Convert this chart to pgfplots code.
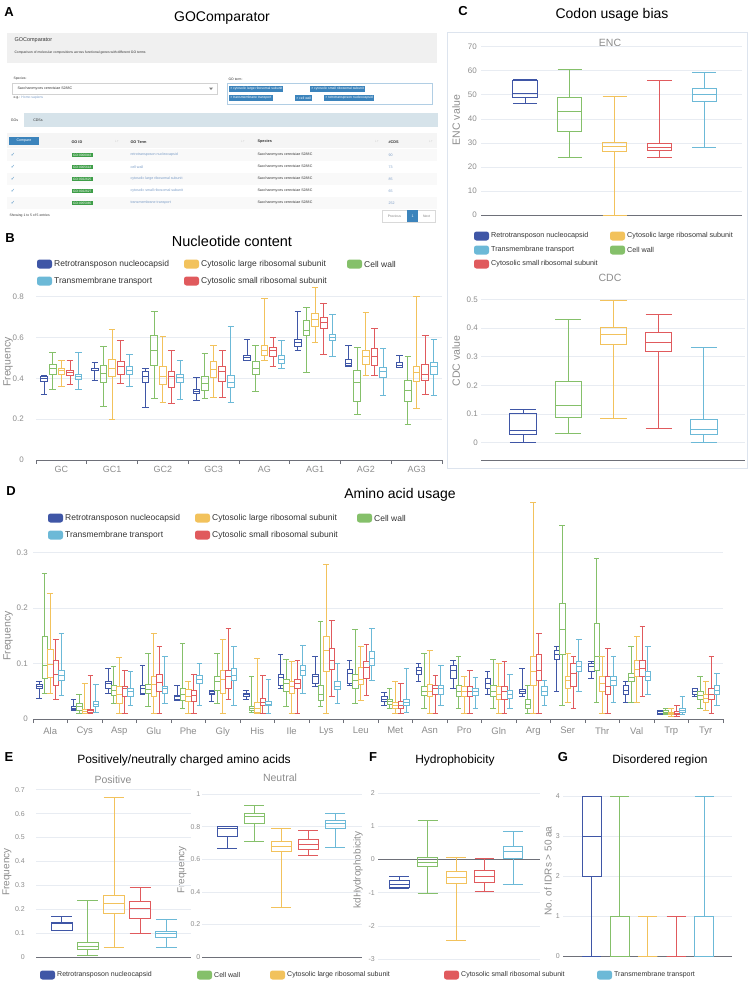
\documentclass[border=0pt]{standalone}
\usepackage{fontspec}
\setmainfont{Liberation Sans}
\newfontfamily\djv{DejaVu Sans}
\usepackage{pgfplots}
\pgfplotsset{compat=1.18}
\usepgfplotslibrary{statistics}

\definecolor{cB}{HTML}{3F56A6}
\definecolor{cG}{HTML}{85C06A}
\definecolor{cY}{HTML}{F2C25C}
\definecolor{cR}{HTML}{E05A5D}
\definecolor{cC}{HTML}{6CB9D7}
\definecolor{axl}{HTML}{6E7079}
\definecolor{grd}{HTML}{E8ECF2}
\definecolor{tkc}{HTML}{8C8C8C}
\definecolor{lgt}{HTML}{333333}
\definecolor{lnk}{HTML}{7A9CC6}
\definecolor{tagc}{HTML}{3C84BC}
\definecolor{gid}{HTML}{3E9E48}
\definecolor{tabc}{HTML}{D6E3EA}
\definecolor{frm}{HTML}{DDE4EE}

\newcommand\fs[1]{\fontsize{#1}{#1}\selectfont}

% one prepared box: colour, position, {lower whisker,Q1,median,Q3,upper whisker}
\newcommand\bx[3]{\bxsplit{#1}{#2}#3\relax}
\def\bxsplit#1#2#3,#4,#5,#6,#7\relax{%
  \addplot[color=#1, solid, boxplot prepared={draw position={#2},
    lower whisker=#3, lower quartile=#4, median=#5,
    upper quartile=#6, upper whisker=#7,
    box extend=\bw, whisker extend=\bw}] coordinates {};}

% legend entry: colour, x, y, text, font size
\newcommand\lgd[5]{%
  \fill[#1,rounded corners=2.5pt] (#2,#3-4.5) rectangle ++(15,9);
  \node[anchor=west,font=\fs{#5},text=lgt,inner sep=0pt] at (#2+17,#3) {#4};}

\pgfplotsset{
  panel/.style={
    scale only axis, clip=false, anchor=south west,
    boxplot/draw direction=y,
    axis x line*=bottom, axis y line*=left,
    y axis line style={draw=none},
    x axis line style={draw=axl, line width=0.8pt},
    ymajorgrids, grid style={draw=grd, line width=0.6pt},
    major tick length=0pt, minor tick length=4pt, tick align=outside,
    minor tick style={draw=axl, line width=0.8pt},
    xtick=\empty,
    tick label style={text=tkc, font=\fs{8}},
    /pgf/number format/assume math mode=true,
    yticklabel style={anchor=east, inner sep=0pt},
    xticklabel style={anchor=north, inner sep=0pt},
    every axis plot/.append style={line width=0.9pt},
  },
}

\begin{document}
\begin{tikzpicture}
\path[use as bounding box] (0,0) rectangle (749pt,-988pt);

\begin{scope}[x=1pt,y=-1pt]
% ---------- panel A (screenshot) ----------
\node[font=\bfseries\fs{13}] at (9,12) {A};
\node[font=\fs{14}] at (222,18) {GOComparator};
\fill[gray!12] (7,33) rectangle (437,63);
\node[anchor=west,font=\fs{5.5},text=lgt] at (11,40) {GOComparator};
\node[anchor=west,font=\fs{3.4},text=lgt] at (11,53) {Comparison of molecular compositions across functional genes with different GO terms};
\node[anchor=west,font=\fs{3.4},text=lgt] at (10,79) {Species:};
\draw[gray!35] (12,83) rectangle (217,94);
\node[anchor=west,font=\fs{3.6},text=lgt] at (14,88.5) {Saccharomyces cerevisiae S288C};
\fill[gray] (209,87.5) -- (213,87.5) -- (211,90) -- cycle;
\node[anchor=west,font=\fs{3.4},text=lgt] at (10,98) {e.g.: \textcolor{lnk}{Homo sapiens}};
\node[anchor=west,font=\fs{3.4},text=lgt] at (225,79) {GO term:};
\draw[tagc!40] (227,83) rectangle (432,104);
\tikzset{tag/.style={anchor=west,fill=tagc,text=white,font=\fs{3.4},inner sep=1.1pt,minimum height=6pt}}
\node[tag] at (229,89) {× cytosolic large ribosomal subunit};
\node[tag] at (310,89) {× cytosolic small ribosomal subunit};
\node[tag] at (229,98) {× transmembrane transport};
\node[tag] at (295,98) {× cell wall};
\node[tag] at (324,98) {× retrotransposon nucleocapsid};
\fill[tabc] (5,113) rectangle (438,127);
\fill[white] (5,113) rectangle (24,127);
\node[font=\fs{3.6},text=lgt] at (14.5,120) {GOs};
\node[font=\fs{3.6},text=lgt] at (38,120) {CDSs};
\fill[gray!8] (7,133) rectangle (437,148);
\node[fill=tagc,text=white,font=\fs{3.6},minimum width=30pt,minimum height=8pt,inner sep=0pt] at (24,141) {Compare};
\node[anchor=west,font=\bfseries\fs{3.8},text=lgt] at (68,142) {GO ID};
\node[anchor=west,font=\bfseries\fs{3.8},text=lgt] at (127,142) {GO Term};
\node[anchor=west,font=\bfseries\fs{3.8},text=lgt] at (254,142) {Species};
\node[anchor=west,font=\bfseries\fs{3.8},text=lgt] at (385,142) {\#CDS};
\foreach \ax in {117,243,377,431} \node[font=\fs{3.6},text=gray!60] at (\ax,142) {↓↑};
\fill[gray!5] (7,149) rectangle (437,161);
\fill[gray!5] (7,173) rectangle (437,185);
\fill[gray!5] (7,197) rectangle (437,209);
\foreach \yy/\gi/\gt/\nc in {155/GO:0000943/retrotransposon nucleocapsid/90,
  167/GO:0005618/cell wall/73, 179/GO:0022625/cytosolic large ribosomal subunit/85,
  191/GO:0022627/cytosolic small ribosomal subunit/65, 203/GO:0055085/transmembrane transport/252}{
  \node[font=\djv\fs{5},text=tagc] at (13,\yy) {✓};
  \node[anchor=west,fill=gid,text=white,font=\fs{3.2},inner sep=1pt] at (72,\yy) {\gi};
  \node[anchor=west,font=\fs{3.6},text=lnk] at (127,\yy) {\gt};
  \node[anchor=west,font=\fs{3.6},text=lgt] at (254,\yy) {Saccharomyces cerevisiae S288C};
  \node[anchor=west,font=\fs{3.6},text=lnk] at (385,\yy) {\nc};
}
\node[anchor=west,font=\fs{3.4},text=lgt] at (6,216) {Showing 1 to 5 of 5 entries};
\draw[gray!30] (382,210) rectangle (435,222);
\fill[tagc] (407,210) rectangle (418,222);
\node[font=\fs{3.4},text=gray] at (394.5,216) {Previous};
\node[font=\fs{3.6},text=white] at (412.5,216) {1};
\node[font=\fs{3.4},text=gray] at (426.5,216) {Next};

% ---------- titles, labels, legends ----------
\node[font=\bfseries\fs{13}] at (10,238) {B};
\node[font=\fs{14.5}] at (232,241) {Nucleotide content};
\lgd{cB}{37}{264}{Retrotransposon nucleocapsid}{8.5}
\lgd{cY}{184}{264}{Cytosolic large ribosomal subunit}{8.5}
\lgd{cG}{347}{264}{Cell wall}{8.5}
\lgd{cC}{37}{281}{Transmembrane transport}{8.5}
\lgd{cR}{184}{281}{Cytosolic small ribosomal subunit}{8.5}
\node[rotate=90,font=\fs{10.5},text=tkc] at (8,362) {Frequency};

\node[font=\bfseries\fs{13}] at (463,11) {C};
\node[font=\fs{14}] at (612,15) {Codon usage bias};
\draw[frm,line width=0.8pt] (447,32) rectangle (747,468);
\node[font=\fs{10.5},text=tkc] at (610,43) {ENC};
\node[font=\fs{10.5},text=tkc] at (610,278) {CDC};
\node[rotate=90,font=\fs{10.5},text=tkc] at (456,120) {ENC value};
\node[rotate=90,font=\fs{10.5},text=tkc] at (456,361) {CDC value};
\lgd{cB}{474}{236}{Retrotransposon nucleocapsid}{7.2}
\lgd{cY}{610}{236}{Cytosolic large ribosomal subunit}{7.2}
\lgd{cC}{474}{250}{Transmembrane transport}{7.2}
\lgd{cG}{610}{250}{Cell wall}{7.2}
\lgd{cR}{474}{264}{Cytosolic small ribosomal subunit}{7.2}

\node[font=\bfseries\fs{13}] at (11,491) {D};
\node[font=\fs{14}] at (400,495) {Amino acid usage};
\lgd{cB}{48}{518}{Retrotransposon nucleocapsid}{8.5}
\lgd{cY}{195}{518}{Cytosolic large ribosomal subunit}{8.5}
\lgd{cG}{357}{518}{Cell wall}{8.5}
\lgd{cC}{48}{535}{Transmembrane transport}{8.5}
\lgd{cR}{195}{535}{Cytosolic small ribosomal subunit}{8.5}
\node[rotate=90,font=\fs{10.5},text=tkc] at (8,636) {Frequency};

\node[font=\bfseries\fs{13}] at (9,757) {E};
\node[font=\fs{12}] at (184,760) {Positively/neutrally charged amino acids};
\node[font=\fs{10.5},text=tkc] at (113,780) {Positive};
\node[font=\fs{10.5},text=tkc] at (280,778) {Neutral};
\node[rotate=90,font=\fs{10},text=tkc] at (7,872) {Frequency};
\node[rotate=90,font=\fs{10},text=tkc] at (182,870) {Frequency};
\node[font=\bfseries\fs{13}] at (373,757) {F};
\node[font=\fs{12}] at (455,760) {Hydrophobicity};
\node[rotate=90,font=\fs{10},text=tkc] at (358,870) {kdHydrophobicity};
\node[font=\bfseries\fs{13}] at (563,757) {G};
\node[font=\fs{12}] at (660,760) {Disordered region};
\node[rotate=90,font=\fs{10},text=tkc] at (548,871) {No. of IDRs > 50 aa};

\lgd{cB}{40}{975}{Retrotransposon nucleocapsid}{7}
\lgd{cG}{197}{975}{Cell wall}{7}
\lgd{cY}{270}{975}{Cytosolic large ribosomal subunit}{7}
\lgd{cR}{444}{975}{Cytosolic small ribosomal subunit}{7}
\lgd{cC}{597}{975}{Transmembrane transport}{7}
\end{scope}

% ---------- B: nucleotide content ----------
\def\bw{0.13}
\begin{axis}[panel, at={(36pt,-460pt)}, width=406pt, height=163.3pt,
  xmin=-0.5, xmax=7.5, ymin=0, ymax=0.8, ytick={0,0.2,0.4,0.6,0.8},
  xtick={0,...,7}, xticklabels={GC,GC1,GC2,GC3,AG,AG1,AG2,AG3},
  minor xtick={-0.5,0.5,...,7.5},
  yticklabel style={xshift=-12pt}, xticklabel style={font=\fs{9}, yshift=-6pt},
  every axis plot/.append style={line width=1pt}]
% GC
\bx{cB}{0-.34}{0.323,0.383,0.400,0.411,0.413}
\bx{cG}{0-.17}{0.343,0.421,0.449,0.470,0.525}
\bx{cY}{0}{0.362,0.421,0.437,0.449,0.489}
\bx{cR}{0+.17}{0.369,0.413,0.427,0.440,0.489}
\bx{cC}{0+.34}{0.346,0.392,0.408,0.421,0.525}
% GC1
\bx{cB}{1-.34}{0.388,0.437,0.440,0.449,0.476}
\bx{cG}{1-.17}{0.264,0.380,0.424,0.465,0.558}
\bx{cY}{1}{0.199,0.411,0.449,0.493,0.641}
\bx{cR}{1+.17}{0.375,0.421,0.457,0.481,0.584}
\bx{cC}{1+.34}{0.359,0.419,0.437,0.457,0.519}
% GC2
\bx{cB}{2-.34}{0.258,0.380,0.411,0.436,0.449}
\bx{cG}{2-.17}{0.299,0.462,0.538,0.608,0.729}
\bx{cY}{2}{0.282,0.372,0.411,0.457,0.604}
\bx{cR}{2+.17}{0.277,0.356,0.408,0.432,0.535}
\bx{cC}{2+.34}{0.297,0.380,0.405,0.421,0.489}
% GC3
\bx{cB}{3-.34}{0.290,0.326,0.338,0.347,0.405}
\bx{cG}{3-.17}{0.299,0.339,0.375,0.411,0.522}
\bx{cY}{3}{0.307,0.403,0.445,0.481,0.563}
\bx{cR}{3+.17}{0.307,0.383,0.432,0.457,0.535}
\bx{cC}{3+.34}{0.281,0.356,0.380,0.416,0.653}
% AG
\bx{cB}{4-.34}{0.486,0.489,0.502,0.514,0.591}
\bx{cG}{4-.17}{0.334,0.421,0.449,0.481,0.560}
\bx{cY}{4}{0.486,0.514,0.538,0.560,0.791}
\bx{cR}{4+.17}{0.460,0.509,0.535,0.551,0.600}
\bx{cC}{4+.34}{0.449,0.473,0.493,0.511,0.584}
% AG1
\bx{cB}{5-.34}{0.538,0.558,0.574,0.592,0.726}
\bx{cG}{5-.17}{0.429,0.612,0.636,0.682,0.747}
\bx{cY}{5}{0.576,0.653,0.690,0.718,0.843}
\bx{cR}{5+.17}{0.517,0.644,0.672,0.697,0.767}
\bx{cC}{5+.34}{0.506,0.587,0.600,0.615,0.713}
% AG2
\bx{cB}{6-.34}{0.457,0.462,0.473,0.493,0.560}
\bx{cG}{6-.17}{0.225,0.285,0.378,0.437,0.551}
\bx{cY}{6}{0.413,0.470,0.509,0.538,0.723}
\bx{cR}{6+.17}{0.413,0.462,0.509,0.546,0.644}
\bx{cC}{6+.34}{0.315,0.405,0.432,0.452,0.546}
% AG3
\bx{cB}{7-.34}{0.452,0.454,0.465,0.476,0.511}
\bx{cG}{7-.17}{0.176,0.285,0.339,0.388,0.509}
\bx{cY}{7}{0.253,0.383,0.427,0.457,0.803}
\bx{cR}{7+.17}{0.323,0.388,0.421,0.470,0.612}
\bx{cC}{7+.34}{0.315,0.421,0.457,0.478,0.591}
\end{axis}

% ---------- C: ENC ----------
\def\bw{0.54}
\begin{axis}[panel, at={(481pt,-215pt)}, width=261pt, height=168.3pt,
  xmin=-0.98, xmax=4.84, ymin=0, ymax=70, ytick={0,10,20,30,40,50,60,70},
  yticklabel style={xshift=-4pt}]
\bx{cB}{0}{46.2,48.8,50.6,56.0,56.4}
\bx{cG}{1}{24.0,34.7,43.0,48.8,60.6}
\bx{cY}{2}{0,26.6,28.4,30.1,49.2}
\bx{cR}{3}{23.9,26.9,28.3,29.7,56.0}
\bx{cC}{4}{27.9,47.4,50.2,52.7,59.5}
\end{axis}

% ---------- C: CDC ----------
\def\bw{0.58}
\begin{axis}[panel, at={(481pt,-460pt)}, width=264pt, height=166pt,
  xmin=-0.93, xmax=4.91, ymin=-0.062, ymax=0.52, ytick={0,0.1,0.2,0.3,0.4,0.5},
  yticklabel style={xshift=-3pt}]
\bx{cB}{0}{0.0,0.028,0.041,0.102,0.114}
\bx{cG}{1}{0.030,0.087,0.129,0.214,0.431}
\bx{cY}{2}{0.082,0.344,0.379,0.404,0.499}
\bx{cR}{3}{0.049,0.320,0.350,0.385,0.448}
\bx{cC}{4}{0.0,0.026,0.046,0.080,0.331}
\end{axis}

% ---------- D: amino acid usage ----------
\def\bw{0.16}
\begin{axis}[panel, at={(33pt,-719pt)}, width=690pt, height=166.5pt,
  xmin=-0.5, xmax=19.5, ymin=0, ymax=0.3, ytick={0,0.1,0.2,0.3},
  xtick={0,...,19},
  xticklabels={Ala,Cys,Asp,Glu,Phe,Gly,His,Ile,Lys,Leu,Met,Asn,Pro,Gln,Arg,Ser,Thr,Val,Trp,Tyr},
  minor xtick={-0.5,0.5,...,19.5},
  yticklabel style={xshift=-5pt}, xticklabel style={font=\fs{9.5}, yshift=-8pt},
  every axis plot/.append style={line width=0.8pt}]
% Ala
\bx{cB}{0-.32}{0.038,0.055,0.058,0.062,0.068}
\bx{cG}{0-.16}{0.047,0.074,0.097,0.148,0.262}
\bx{cY}{0}{0.047,0.075,0.098,0.125,0.227}
\bx{cR}{0+.16}{0.036,0.061,0.081,0.106,0.144}
\bx{cC}{0+.32}{0.043,0.070,0.079,0.088,0.155}
% Cys
\bx{cB}{1-.32}{0.016,0.018,0.020,0.022,0.036}
\bx{cG}{1-.16}{0.011,0.016,0.022,0.029,0.045}
\bx{cY}{1}{0.010,0.011,0.014,0.018,0.065}
\bx{cR}{1+.16}{0.010,0.012,0.015,0.018,0.079}
\bx{cC}{1+.32}{0.012,0.023,0.027,0.031,0.063}
% Asp
\bx{cB}{2-.32}{0.047,0.056,0.065,0.067,0.092}
\bx{cG}{2-.16}{0.029,0.043,0.052,0.061,0.095}
\bx{cY}{2}{0.011,0.029,0.045,0.058,0.111}
\bx{cR}{2+.16}{0.010,0.040,0.055,0.059,0.088}
\bx{cC}{2+.32}{0.025,0.041,0.049,0.056,0.085}
% Glu
\bx{cB}{3-.32}{0.044,0.047,0.056,0.061,0.096}
\bx{cG}{3-.16}{0.022,0.047,0.053,0.063,0.119}
\bx{cY}{3}{0.010,0.040,0.062,0.076,0.155}
\bx{cR}{3+.16}{0.010,0.049,0.066,0.081,0.131}
\bx{cC}{3+.32}{0.029,0.047,0.055,0.059,0.112}
% Phe
\bx{cB}{4-.32}{0.034,0.036,0.040,0.043,0.061}
\bx{cG}{4-.16}{0.020,0.034,0.045,0.055,0.137}
\bx{cY}{4}{0.010,0.031,0.040,0.053,0.067}
\bx{cR}{4+.16}{0.010,0.031,0.043,0.051,0.081}
\bx{cC}{4+.32}{0.025,0.064,0.071,0.079,0.101}
% Gly
\bx{cB}{5-.32}{0.031,0.045,0.046,0.049,0.052}
\bx{cG}{5-.16}{0.029,0.052,0.068,0.076,0.119}
\bx{cY}{5}{0.010,0.047,0.072,0.088,0.144}
\bx{cR}{5+.16}{0.036,0.056,0.076,0.088,0.163}
\bx{cC}{5+.32}{0.025,0.070,0.078,0.091,0.131}
% His
\bx{cB}{6-.32}{0.036,0.041,0.044,0.047,0.052}
\bx{cG}{6-.16}{0.012,0.016,0.019,0.023,0.077}
\bx{cY}{6}{0.010,0.012,0.020,0.030,0.109}
\bx{cR}{6+.16}{0.010,0.025,0.030,0.038,0.079}
\bx{cC}{6+.32}{0.010,0.025,0.027,0.031,0.072}
% Ile
\bx{cB}{7-.32}{0.056,0.060,0.075,0.080,0.117}
\bx{cG}{7-.16}{0.022,0.049,0.065,0.072,0.108}
\bx{cY}{7}{0.010,0.047,0.058,0.068,0.103}
\bx{cR}{7+.16}{0.010,0.056,0.064,0.072,0.106}
\bx{cC}{7+.32}{0.047,0.079,0.088,0.097,0.133}
% Lys
\bx{cB}{8-.32}{0.058,0.065,0.076,0.081,0.112}
\bx{cG}{8-.16}{0.022,0.034,0.045,0.060,0.175}
\bx{cY}{8}{0.010,0.085,0.123,0.148,0.279}
\bx{cR}{8+.16}{0.041,0.090,0.105,0.128,0.178}
\bx{cC}{8+.32}{0.029,0.054,0.058,0.067,0.100}
% Leu
\bx{cB}{9-.32}{0.061,0.064,0.083,0.090,0.105}
\bx{cG}{9-.16}{0.029,0.056,0.070,0.081,0.162}
\bx{cY}{9}{0.034,0.062,0.072,0.093,0.130}
\bx{cR}{9+.16}{0.043,0.074,0.093,0.103,0.135}
\bx{cC}{9+.32}{0.070,0.097,0.110,0.121,0.164}
% Met
\bx{cB}{10-.32}{0.025,0.032,0.035,0.040,0.048}
\bx{cG}{10-.16}{0.020,0.027,0.032,0.036,0.056}
\bx{cY}{10}{0.010,0.020,0.025,0.030,0.067}
\bx{cR}{10+.16}{0.010,0.020,0.025,0.032,0.065}
\bx{cC}{10+.32}{0.012,0.025,0.030,0.036,0.092}
% Asn
\bx{cB}{11-.32}{0.067,0.081,0.088,0.093,0.100}
\bx{cG}{11-.16}{0.020,0.042,0.050,0.058,0.119}
\bx{cY}{11}{0.010,0.040,0.050,0.062,0.124}
\bx{cR}{11+.16}{0.010,0.045,0.055,0.061,0.079}
\bx{cC}{11+.32}{0.025,0.045,0.055,0.061,0.096}
% Pro
\bx{cB}{12-.32}{0.056,0.074,0.088,0.097,0.106}
\bx{cG}{12-.16}{0.020,0.040,0.050,0.060,0.112}
\bx{cY}{12}{0.010,0.040,0.050,0.058,0.077}
\bx{cR}{12+.16}{0.010,0.040,0.050,0.058,0.088}
\bx{cC}{12+.32}{0.020,0.042,0.050,0.056,0.075}
% Gln
\bx{cB}{13-.32}{0.045,0.056,0.065,0.074,0.086}
\bx{cG}{13-.16}{0.020,0.040,0.050,0.060,0.108}
\bx{cY}{13}{0.010,0.035,0.045,0.058,0.100}
\bx{cR}{13+.16}{0.010,0.035,0.050,0.059,0.103}
\bx{cC}{13+.32}{0.020,0.038,0.045,0.052,0.081}
% Arg
\bx{cB}{14-.32}{0.040,0.047,0.050,0.054,0.092}
\bx{cG}{14-.16}{0.010,0.020,0.027,0.035,0.060}
\bx{cY}{14}{0.010,0.060,0.085,0.112,0.390}
\bx{cR}{14+.16}{0.010,0.070,0.088,0.116,0.155}
\bx{cC}{14+.32}{0.025,0.043,0.050,0.058,0.070}
% Ser
\bx{cB}{15-.32}{0.050,0.108,0.117,0.124,0.130}
\bx{cG}{15-.16}{0.025,0.116,0.162,0.209,0.348}
\bx{cY}{15}{0.030,0.056,0.070,0.077,0.119}
\bx{cR}{15+.16}{0.020,0.058,0.082,0.100,0.112}
\bx{cC}{15+.32}{0.050,0.085,0.094,0.103,0.144}
% Thr
\bx{cB}{16-.32}{0.074,0.085,0.094,0.100,0.103}
\bx{cG}{16-.16}{0.030,0.088,0.112,0.173,0.290}
\bx{cY}{16}{0.010,0.050,0.065,0.077,0.112}
\bx{cR}{16+.16}{0.010,0.045,0.058,0.076,0.128}
\bx{cC}{16+.32}{0.030,0.061,0.069,0.076,0.113}
% Val
\bx{cB}{17-.32}{0.030,0.045,0.052,0.060,0.067}
\bx{cG}{17-.16}{0.030,0.067,0.075,0.083,0.130}
\bx{cY}{17}{0.030,0.076,0.090,0.106,0.148}
\bx{cR}{17+.16}{0.040,0.076,0.092,0.106,0.166}
\bx{cC}{17+.32}{0.045,0.069,0.077,0.085,0.130}
% Trp
\bx{cB}{18-.32}{0.008,0.010,0.011,0.013,0.016}
\bx{cG}{18-.16}{0.008,0.010,0.012,0.015,0.020}
\bx{cY}{18}{0.005,0.008,0.010,0.012,0.020}
\bx{cR}{18+.16}{0.005,0.008,0.010,0.013,0.025}
\bx{cC}{18+.32}{0.008,0.012,0.015,0.020,0.040}
% Tyr
\bx{cB}{19-.32}{0.040,0.045,0.050,0.055,0.056}
\bx{cG}{19-.16}{0.020,0.035,0.042,0.050,0.076}
\bx{cY}{19}{0.015,0.030,0.038,0.045,0.067}
\bx{cR}{19+.16}{0.010,0.035,0.045,0.055,0.112}
\bx{cC}{19+.32}{0.025,0.045,0.052,0.060,0.083}
\end{axis}

% ---------- E: positive ----------
\def\bw{0.8}
\begin{axis}[panel, at={(36pt,-957pt)}, width=155pt, height=167.3pt,
  xmin=-0.98, xmax=4.94, ymin=0, ymax=0.7, ytick={0,0.1,0.2,0.3,0.4,0.5,0.6,0.7},
  tick label style={font=\fs{7}}, yticklabel style={xshift=-11pt}]
\bx{cB}{0}{0.110,0.113,0.140,0.145,0.168}
\bx{cG}{1}{0.005,0.031,0.046,0.063,0.237}
\bx{cY}{2}{0.039,0.184,0.223,0.258,0.668}
\bx{cR}{3}{0.098,0.163,0.202,0.233,0.293}
\bx{cC}{4}{0.042,0.081,0.098,0.109,0.156}
\end{axis}

% ---------- E: neutral ----------
\def\bw{0.74}
\begin{axis}[panel, at={(202pt,-957pt)}, width=160pt, height=163pt,
  xmin=-0.94, xmax=5.0, ymin=0, ymax=1, ytick={0,0.2,0.4,0.6,0.8,1},
  tick label style={font=\fs{7}}, yticklabel style={xshift=-1.5pt}]
\bx{cB}{0}{0.665,0.740,0.790,0.798,0.802}
\bx{cG}{1}{0.706,0.822,0.865,0.883,0.930}
\bx{cY}{2}{0.307,0.650,0.681,0.712,0.787}
\bx{cR}{3}{0.624,0.658,0.691,0.720,0.777}
\bx{cC}{4}{0.671,0.787,0.818,0.838,0.883}
\end{axis}

% ---------- F: hydrophobicity ----------
\def\bw{0.7}
\begin{axis}[panel, at={(378pt,-959pt)}, width=162pt, height=166pt,
  xmin=-0.74, xmax=4.95, ymin=-3, ymax=2, ytick={-3,-2,-1,0,1,2},
  x axis line style={draw=none},
  extra y ticks={0}, extra y tick labels={},
  extra y tick style={grid style={draw=axl, line width=0.8pt}},
  tick label style={font=\fs{7}}, yticklabel style={xshift=-3pt}]
\bx{cB}{0}{-0.87,-0.85,-0.75,-0.63,-0.50}
\bx{cG}{1}{-1.04,-0.22,-0.10,0.05,1.16}
\bx{cY}{2}{-2.44,-0.72,-0.55,-0.37,0.05}
\bx{cR}{3}{-0.98,-0.70,-0.52,-0.33,0.02}
\bx{cC}{4}{-0.75,0.02,0.23,0.38,0.83}
\end{axis}

% ---------- G: disordered region ----------
\def\bw{0.67}
\begin{axis}[panel, at={(563pt,-956pt)}, width=169pt, height=160pt,
  xmin=-1.01, xmax=4.98, ymin=0, ymax=4, ytick={0,1,2,3,4},
  tick label style={font=\fs{7}}, yticklabel style={xshift=-3pt}]
\bx{cB}{0}{0,2,3,4,4}
\bx{cG}{1}{0,0,0,1,4}
\bx{cY}{2}{0,0,0,0,1}
\bx{cR}{3}{0,0,0,0,1}
\bx{cC}{4}{0,0,0,1,4}
\end{axis}
\end{tikzpicture}
\end{document}
